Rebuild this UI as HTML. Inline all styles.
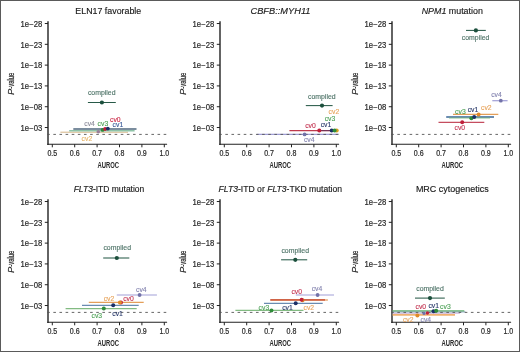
<!DOCTYPE html>
<html><head><meta charset="utf-8"><style>
html,body{margin:0;padding:0;background:#fff;}
.wrap{position:relative;width:520px;height:352px;overflow:hidden;background:#fff;}
svg{display:block;font-family:"Liberation Sans", sans-serif;filter:blur(0.3px);}
.bd{position:absolute;left:0;top:0;width:520px;height:352px;box-sizing:border-box;border:1px solid #5a5a5a;}
</style></head><body>
<div class="wrap">
<svg width="520" height="352" viewBox="0 0 520 352">
<rect x="0" y="0" width="520" height="352" fill="#fff"/>
<g transform="translate(0,0)">
<text x="108.3" y="13.9" font-size="8.85" text-anchor="middle" fill="#1a1a1a" stroke="#1a1a1a" stroke-width="0.15">ELN17 favorable</text>
<line x1="48" y1="21.3" x2="48" y2="144.9" stroke="#222" stroke-width="1.4"/>
<line x1="44.8" y1="23.52" x2="48" y2="23.52" stroke="#222" stroke-width="1"/>
<text x="42.2" y="26.72" font-size="8.2" text-anchor="end" fill="#2a2a2a" stroke="#2a2a2a" stroke-width="0.2" textLength="21.6" lengthAdjust="spacingAndGlyphs">1e−28</text>
<line x1="44.8" y1="44.32" x2="48" y2="44.32" stroke="#222" stroke-width="1"/>
<text x="42.2" y="47.52" font-size="8.2" text-anchor="end" fill="#2a2a2a" stroke="#2a2a2a" stroke-width="0.2" textLength="21.6" lengthAdjust="spacingAndGlyphs">1e−23</text>
<line x1="44.8" y1="65.12" x2="48" y2="65.12" stroke="#222" stroke-width="1"/>
<text x="42.2" y="68.32" font-size="8.2" text-anchor="end" fill="#2a2a2a" stroke="#2a2a2a" stroke-width="0.2" textLength="21.6" lengthAdjust="spacingAndGlyphs">1e−18</text>
<line x1="44.8" y1="85.92" x2="48" y2="85.92" stroke="#222" stroke-width="1"/>
<text x="42.2" y="89.12" font-size="8.2" text-anchor="end" fill="#2a2a2a" stroke="#2a2a2a" stroke-width="0.2" textLength="21.6" lengthAdjust="spacingAndGlyphs">1e−13</text>
<line x1="44.8" y1="106.72" x2="48" y2="106.72" stroke="#222" stroke-width="1"/>
<text x="42.2" y="109.92" font-size="8.2" text-anchor="end" fill="#2a2a2a" stroke="#2a2a2a" stroke-width="0.2" textLength="21.6" lengthAdjust="spacingAndGlyphs">1e−08</text>
<line x1="44.8" y1="127.52" x2="48" y2="127.52" stroke="#222" stroke-width="1"/>
<text x="42.2" y="130.72" font-size="8.2" text-anchor="end" fill="#2a2a2a" stroke="#2a2a2a" stroke-width="0.2" textLength="21.6" lengthAdjust="spacingAndGlyphs">1e−03</text>
<line x1="47.3" y1="144.2" x2="167.1" y2="144.2" stroke="#222" stroke-width="1.15"/>
<line x1="52.30" y1="144.2" x2="52.30" y2="147.3" stroke="#222" stroke-width="1"/>
<text x="47.40" y="156.0" font-size="8.4" fill="#2a2a2a" stroke="#2a2a2a" stroke-width="0.22" textLength="9.8" lengthAdjust="spacingAndGlyphs">0.5</text>
<line x1="74.70" y1="144.2" x2="74.70" y2="147.3" stroke="#222" stroke-width="1"/>
<text x="69.80" y="156.0" font-size="8.4" fill="#2a2a2a" stroke="#2a2a2a" stroke-width="0.22" textLength="9.8" lengthAdjust="spacingAndGlyphs">0.6</text>
<line x1="97.10" y1="144.2" x2="97.10" y2="147.3" stroke="#222" stroke-width="1"/>
<text x="92.20" y="156.0" font-size="8.4" fill="#2a2a2a" stroke="#2a2a2a" stroke-width="0.22" textLength="9.8" lengthAdjust="spacingAndGlyphs">0.7</text>
<line x1="119.50" y1="144.2" x2="119.50" y2="147.3" stroke="#222" stroke-width="1"/>
<text x="114.60" y="156.0" font-size="8.4" fill="#2a2a2a" stroke="#2a2a2a" stroke-width="0.22" textLength="9.8" lengthAdjust="spacingAndGlyphs">0.8</text>
<line x1="141.90" y1="144.2" x2="141.90" y2="147.3" stroke="#222" stroke-width="1"/>
<text x="137.00" y="156.0" font-size="8.4" fill="#2a2a2a" stroke="#2a2a2a" stroke-width="0.22" textLength="9.8" lengthAdjust="spacingAndGlyphs">0.9</text>
<line x1="164.30" y1="144.2" x2="164.30" y2="147.3" stroke="#222" stroke-width="1"/>
<text x="159.40" y="156.0" font-size="8.4" fill="#2a2a2a" stroke="#2a2a2a" stroke-width="0.22" textLength="9.8" lengthAdjust="spacingAndGlyphs">1.0</text>
<text transform="translate(108.3,168.1) scale(0.64,1)" font-size="9.2" font-weight="bold" text-anchor="middle" fill="#2a2a2a">AUROC</text>
<text transform="translate(14.0,95.0) rotate(-90)" font-size="9.3" font-style="italic" fill="#2a2a2a" stroke="#2a2a2a" stroke-width="0.15">P</text>
<text transform="translate(14.0,88.7) rotate(-90) scale(0.63,1)" font-size="9.3" fill="#2a2a2a" stroke="#2a2a2a" stroke-width="0.25">-value</text>
</g>
<g transform="translate(172,0)">
<text x="108.5" y="13.9" font-size="8.85" text-anchor="middle" fill="#1a1a1a" stroke="#1a1a1a" stroke-width="0.15" textLength="60.0" lengthAdjust="spacingAndGlyphs"><tspan font-style="italic">CBFB::MYH11</tspan></text>
<line x1="48" y1="21.3" x2="48" y2="144.9" stroke="#222" stroke-width="1.4"/>
<line x1="44.8" y1="23.52" x2="48" y2="23.52" stroke="#222" stroke-width="1"/>
<text x="42.2" y="26.72" font-size="8.2" text-anchor="end" fill="#2a2a2a" stroke="#2a2a2a" stroke-width="0.2" textLength="21.6" lengthAdjust="spacingAndGlyphs">1e−28</text>
<line x1="44.8" y1="44.32" x2="48" y2="44.32" stroke="#222" stroke-width="1"/>
<text x="42.2" y="47.52" font-size="8.2" text-anchor="end" fill="#2a2a2a" stroke="#2a2a2a" stroke-width="0.2" textLength="21.6" lengthAdjust="spacingAndGlyphs">1e−23</text>
<line x1="44.8" y1="65.12" x2="48" y2="65.12" stroke="#222" stroke-width="1"/>
<text x="42.2" y="68.32" font-size="8.2" text-anchor="end" fill="#2a2a2a" stroke="#2a2a2a" stroke-width="0.2" textLength="21.6" lengthAdjust="spacingAndGlyphs">1e−18</text>
<line x1="44.8" y1="85.92" x2="48" y2="85.92" stroke="#222" stroke-width="1"/>
<text x="42.2" y="89.12" font-size="8.2" text-anchor="end" fill="#2a2a2a" stroke="#2a2a2a" stroke-width="0.2" textLength="21.6" lengthAdjust="spacingAndGlyphs">1e−13</text>
<line x1="44.8" y1="106.72" x2="48" y2="106.72" stroke="#222" stroke-width="1"/>
<text x="42.2" y="109.92" font-size="8.2" text-anchor="end" fill="#2a2a2a" stroke="#2a2a2a" stroke-width="0.2" textLength="21.6" lengthAdjust="spacingAndGlyphs">1e−08</text>
<line x1="44.8" y1="127.52" x2="48" y2="127.52" stroke="#222" stroke-width="1"/>
<text x="42.2" y="130.72" font-size="8.2" text-anchor="end" fill="#2a2a2a" stroke="#2a2a2a" stroke-width="0.2" textLength="21.6" lengthAdjust="spacingAndGlyphs">1e−03</text>
<line x1="47.3" y1="144.2" x2="167.1" y2="144.2" stroke="#222" stroke-width="1.15"/>
<line x1="52.30" y1="144.2" x2="52.30" y2="147.3" stroke="#222" stroke-width="1"/>
<text x="47.40" y="156.0" font-size="8.4" fill="#2a2a2a" stroke="#2a2a2a" stroke-width="0.22" textLength="9.8" lengthAdjust="spacingAndGlyphs">0.5</text>
<line x1="74.70" y1="144.2" x2="74.70" y2="147.3" stroke="#222" stroke-width="1"/>
<text x="69.80" y="156.0" font-size="8.4" fill="#2a2a2a" stroke="#2a2a2a" stroke-width="0.22" textLength="9.8" lengthAdjust="spacingAndGlyphs">0.6</text>
<line x1="97.10" y1="144.2" x2="97.10" y2="147.3" stroke="#222" stroke-width="1"/>
<text x="92.20" y="156.0" font-size="8.4" fill="#2a2a2a" stroke="#2a2a2a" stroke-width="0.22" textLength="9.8" lengthAdjust="spacingAndGlyphs">0.7</text>
<line x1="119.50" y1="144.2" x2="119.50" y2="147.3" stroke="#222" stroke-width="1"/>
<text x="114.60" y="156.0" font-size="8.4" fill="#2a2a2a" stroke="#2a2a2a" stroke-width="0.22" textLength="9.8" lengthAdjust="spacingAndGlyphs">0.8</text>
<line x1="141.90" y1="144.2" x2="141.90" y2="147.3" stroke="#222" stroke-width="1"/>
<text x="137.00" y="156.0" font-size="8.4" fill="#2a2a2a" stroke="#2a2a2a" stroke-width="0.22" textLength="9.8" lengthAdjust="spacingAndGlyphs">0.9</text>
<line x1="164.30" y1="144.2" x2="164.30" y2="147.3" stroke="#222" stroke-width="1"/>
<text x="159.40" y="156.0" font-size="8.4" fill="#2a2a2a" stroke="#2a2a2a" stroke-width="0.22" textLength="9.8" lengthAdjust="spacingAndGlyphs">1.0</text>
<text transform="translate(108.3,168.1) scale(0.64,1)" font-size="9.2" font-weight="bold" text-anchor="middle" fill="#2a2a2a">AUROC</text>
<text transform="translate(14.0,95.0) rotate(-90)" font-size="9.3" font-style="italic" fill="#2a2a2a" stroke="#2a2a2a" stroke-width="0.15">P</text>
<text transform="translate(14.0,88.7) rotate(-90) scale(0.63,1)" font-size="9.3" fill="#2a2a2a" stroke="#2a2a2a" stroke-width="0.25">-value</text>
</g>
<g transform="translate(344,0)">
<text x="108.3" y="13.9" font-size="8.85" text-anchor="middle" fill="#1a1a1a" stroke="#1a1a1a" stroke-width="0.15" textLength="61.2" lengthAdjust="spacingAndGlyphs"><tspan font-style="italic">NPM1</tspan> mutation</text>
<line x1="48" y1="21.3" x2="48" y2="144.9" stroke="#222" stroke-width="1.4"/>
<line x1="44.8" y1="23.52" x2="48" y2="23.52" stroke="#222" stroke-width="1"/>
<text x="42.2" y="26.72" font-size="8.2" text-anchor="end" fill="#2a2a2a" stroke="#2a2a2a" stroke-width="0.2" textLength="21.6" lengthAdjust="spacingAndGlyphs">1e−28</text>
<line x1="44.8" y1="44.32" x2="48" y2="44.32" stroke="#222" stroke-width="1"/>
<text x="42.2" y="47.52" font-size="8.2" text-anchor="end" fill="#2a2a2a" stroke="#2a2a2a" stroke-width="0.2" textLength="21.6" lengthAdjust="spacingAndGlyphs">1e−23</text>
<line x1="44.8" y1="65.12" x2="48" y2="65.12" stroke="#222" stroke-width="1"/>
<text x="42.2" y="68.32" font-size="8.2" text-anchor="end" fill="#2a2a2a" stroke="#2a2a2a" stroke-width="0.2" textLength="21.6" lengthAdjust="spacingAndGlyphs">1e−18</text>
<line x1="44.8" y1="85.92" x2="48" y2="85.92" stroke="#222" stroke-width="1"/>
<text x="42.2" y="89.12" font-size="8.2" text-anchor="end" fill="#2a2a2a" stroke="#2a2a2a" stroke-width="0.2" textLength="21.6" lengthAdjust="spacingAndGlyphs">1e−13</text>
<line x1="44.8" y1="106.72" x2="48" y2="106.72" stroke="#222" stroke-width="1"/>
<text x="42.2" y="109.92" font-size="8.2" text-anchor="end" fill="#2a2a2a" stroke="#2a2a2a" stroke-width="0.2" textLength="21.6" lengthAdjust="spacingAndGlyphs">1e−08</text>
<line x1="44.8" y1="127.52" x2="48" y2="127.52" stroke="#222" stroke-width="1"/>
<text x="42.2" y="130.72" font-size="8.2" text-anchor="end" fill="#2a2a2a" stroke="#2a2a2a" stroke-width="0.2" textLength="21.6" lengthAdjust="spacingAndGlyphs">1e−03</text>
<line x1="47.3" y1="144.2" x2="167.1" y2="144.2" stroke="#222" stroke-width="1.15"/>
<line x1="52.30" y1="144.2" x2="52.30" y2="147.3" stroke="#222" stroke-width="1"/>
<text x="47.40" y="156.0" font-size="8.4" fill="#2a2a2a" stroke="#2a2a2a" stroke-width="0.22" textLength="9.8" lengthAdjust="spacingAndGlyphs">0.5</text>
<line x1="74.70" y1="144.2" x2="74.70" y2="147.3" stroke="#222" stroke-width="1"/>
<text x="69.80" y="156.0" font-size="8.4" fill="#2a2a2a" stroke="#2a2a2a" stroke-width="0.22" textLength="9.8" lengthAdjust="spacingAndGlyphs">0.6</text>
<line x1="97.10" y1="144.2" x2="97.10" y2="147.3" stroke="#222" stroke-width="1"/>
<text x="92.20" y="156.0" font-size="8.4" fill="#2a2a2a" stroke="#2a2a2a" stroke-width="0.22" textLength="9.8" lengthAdjust="spacingAndGlyphs">0.7</text>
<line x1="119.50" y1="144.2" x2="119.50" y2="147.3" stroke="#222" stroke-width="1"/>
<text x="114.60" y="156.0" font-size="8.4" fill="#2a2a2a" stroke="#2a2a2a" stroke-width="0.22" textLength="9.8" lengthAdjust="spacingAndGlyphs">0.8</text>
<line x1="141.90" y1="144.2" x2="141.90" y2="147.3" stroke="#222" stroke-width="1"/>
<text x="137.00" y="156.0" font-size="8.4" fill="#2a2a2a" stroke="#2a2a2a" stroke-width="0.22" textLength="9.8" lengthAdjust="spacingAndGlyphs">0.9</text>
<line x1="164.30" y1="144.2" x2="164.30" y2="147.3" stroke="#222" stroke-width="1"/>
<text x="159.40" y="156.0" font-size="8.4" fill="#2a2a2a" stroke="#2a2a2a" stroke-width="0.22" textLength="9.8" lengthAdjust="spacingAndGlyphs">1.0</text>
<text transform="translate(108.3,168.1) scale(0.64,1)" font-size="9.2" font-weight="bold" text-anchor="middle" fill="#2a2a2a">AUROC</text>
<text transform="translate(14.0,95.0) rotate(-90)" font-size="9.3" font-style="italic" fill="#2a2a2a" stroke="#2a2a2a" stroke-width="0.15">P</text>
<text transform="translate(14.0,88.7) rotate(-90) scale(0.63,1)" font-size="9.3" fill="#2a2a2a" stroke="#2a2a2a" stroke-width="0.25">-value</text>
</g>
<g transform="translate(0,178)">
<text x="109.0" y="14.200000000000001" font-size="8.85" text-anchor="middle" fill="#1a1a1a" stroke="#1a1a1a" stroke-width="0.15" textLength="70.6" lengthAdjust="spacingAndGlyphs"><tspan font-style="italic">FLT3</tspan>-ITD mutation</text>
<line x1="48" y1="21.3" x2="48" y2="144.9" stroke="#222" stroke-width="1.4"/>
<line x1="44.8" y1="23.52" x2="48" y2="23.52" stroke="#222" stroke-width="1"/>
<text x="42.2" y="26.72" font-size="8.2" text-anchor="end" fill="#2a2a2a" stroke="#2a2a2a" stroke-width="0.2" textLength="21.6" lengthAdjust="spacingAndGlyphs">1e−28</text>
<line x1="44.8" y1="44.32" x2="48" y2="44.32" stroke="#222" stroke-width="1"/>
<text x="42.2" y="47.52" font-size="8.2" text-anchor="end" fill="#2a2a2a" stroke="#2a2a2a" stroke-width="0.2" textLength="21.6" lengthAdjust="spacingAndGlyphs">1e−23</text>
<line x1="44.8" y1="65.12" x2="48" y2="65.12" stroke="#222" stroke-width="1"/>
<text x="42.2" y="68.32" font-size="8.2" text-anchor="end" fill="#2a2a2a" stroke="#2a2a2a" stroke-width="0.2" textLength="21.6" lengthAdjust="spacingAndGlyphs">1e−18</text>
<line x1="44.8" y1="85.92" x2="48" y2="85.92" stroke="#222" stroke-width="1"/>
<text x="42.2" y="89.12" font-size="8.2" text-anchor="end" fill="#2a2a2a" stroke="#2a2a2a" stroke-width="0.2" textLength="21.6" lengthAdjust="spacingAndGlyphs">1e−13</text>
<line x1="44.8" y1="106.72" x2="48" y2="106.72" stroke="#222" stroke-width="1"/>
<text x="42.2" y="109.92" font-size="8.2" text-anchor="end" fill="#2a2a2a" stroke="#2a2a2a" stroke-width="0.2" textLength="21.6" lengthAdjust="spacingAndGlyphs">1e−08</text>
<line x1="44.8" y1="127.52" x2="48" y2="127.52" stroke="#222" stroke-width="1"/>
<text x="42.2" y="130.72" font-size="8.2" text-anchor="end" fill="#2a2a2a" stroke="#2a2a2a" stroke-width="0.2" textLength="21.6" lengthAdjust="spacingAndGlyphs">1e−03</text>
<line x1="47.3" y1="144.2" x2="167.1" y2="144.2" stroke="#222" stroke-width="1.15"/>
<line x1="52.30" y1="144.2" x2="52.30" y2="147.3" stroke="#222" stroke-width="1"/>
<text x="47.40" y="156.0" font-size="8.4" fill="#2a2a2a" stroke="#2a2a2a" stroke-width="0.22" textLength="9.8" lengthAdjust="spacingAndGlyphs">0.5</text>
<line x1="74.70" y1="144.2" x2="74.70" y2="147.3" stroke="#222" stroke-width="1"/>
<text x="69.80" y="156.0" font-size="8.4" fill="#2a2a2a" stroke="#2a2a2a" stroke-width="0.22" textLength="9.8" lengthAdjust="spacingAndGlyphs">0.6</text>
<line x1="97.10" y1="144.2" x2="97.10" y2="147.3" stroke="#222" stroke-width="1"/>
<text x="92.20" y="156.0" font-size="8.4" fill="#2a2a2a" stroke="#2a2a2a" stroke-width="0.22" textLength="9.8" lengthAdjust="spacingAndGlyphs">0.7</text>
<line x1="119.50" y1="144.2" x2="119.50" y2="147.3" stroke="#222" stroke-width="1"/>
<text x="114.60" y="156.0" font-size="8.4" fill="#2a2a2a" stroke="#2a2a2a" stroke-width="0.22" textLength="9.8" lengthAdjust="spacingAndGlyphs">0.8</text>
<line x1="141.90" y1="144.2" x2="141.90" y2="147.3" stroke="#222" stroke-width="1"/>
<text x="137.00" y="156.0" font-size="8.4" fill="#2a2a2a" stroke="#2a2a2a" stroke-width="0.22" textLength="9.8" lengthAdjust="spacingAndGlyphs">0.9</text>
<line x1="164.30" y1="144.2" x2="164.30" y2="147.3" stroke="#222" stroke-width="1"/>
<text x="159.40" y="156.0" font-size="8.4" fill="#2a2a2a" stroke="#2a2a2a" stroke-width="0.22" textLength="9.8" lengthAdjust="spacingAndGlyphs">1.0</text>
<text transform="translate(108.3,168.1) scale(0.64,1)" font-size="9.2" font-weight="bold" text-anchor="middle" fill="#2a2a2a">AUROC</text>
<text transform="translate(14.0,95.0) rotate(-90)" font-size="9.3" font-style="italic" fill="#2a2a2a" stroke="#2a2a2a" stroke-width="0.15">P</text>
<text transform="translate(14.0,88.7) rotate(-90) scale(0.63,1)" font-size="9.3" fill="#2a2a2a" stroke="#2a2a2a" stroke-width="0.25">-value</text>
</g>
<g transform="translate(172,178)">
<text x="108.3" y="14.200000000000001" font-size="8.85" text-anchor="middle" fill="#1a1a1a" stroke="#1a1a1a" stroke-width="0.15" textLength="123.5" lengthAdjust="spacingAndGlyphs"><tspan font-style="italic">FLT3</tspan>-ITD or <tspan font-style="italic">FLT3</tspan>-TKD mutation</text>
<line x1="48" y1="21.3" x2="48" y2="144.9" stroke="#222" stroke-width="1.4"/>
<line x1="44.8" y1="23.52" x2="48" y2="23.52" stroke="#222" stroke-width="1"/>
<text x="42.2" y="26.72" font-size="8.2" text-anchor="end" fill="#2a2a2a" stroke="#2a2a2a" stroke-width="0.2" textLength="21.6" lengthAdjust="spacingAndGlyphs">1e−28</text>
<line x1="44.8" y1="44.32" x2="48" y2="44.32" stroke="#222" stroke-width="1"/>
<text x="42.2" y="47.52" font-size="8.2" text-anchor="end" fill="#2a2a2a" stroke="#2a2a2a" stroke-width="0.2" textLength="21.6" lengthAdjust="spacingAndGlyphs">1e−23</text>
<line x1="44.8" y1="65.12" x2="48" y2="65.12" stroke="#222" stroke-width="1"/>
<text x="42.2" y="68.32" font-size="8.2" text-anchor="end" fill="#2a2a2a" stroke="#2a2a2a" stroke-width="0.2" textLength="21.6" lengthAdjust="spacingAndGlyphs">1e−18</text>
<line x1="44.8" y1="85.92" x2="48" y2="85.92" stroke="#222" stroke-width="1"/>
<text x="42.2" y="89.12" font-size="8.2" text-anchor="end" fill="#2a2a2a" stroke="#2a2a2a" stroke-width="0.2" textLength="21.6" lengthAdjust="spacingAndGlyphs">1e−13</text>
<line x1="44.8" y1="106.72" x2="48" y2="106.72" stroke="#222" stroke-width="1"/>
<text x="42.2" y="109.92" font-size="8.2" text-anchor="end" fill="#2a2a2a" stroke="#2a2a2a" stroke-width="0.2" textLength="21.6" lengthAdjust="spacingAndGlyphs">1e−08</text>
<line x1="44.8" y1="127.52" x2="48" y2="127.52" stroke="#222" stroke-width="1"/>
<text x="42.2" y="130.72" font-size="8.2" text-anchor="end" fill="#2a2a2a" stroke="#2a2a2a" stroke-width="0.2" textLength="21.6" lengthAdjust="spacingAndGlyphs">1e−03</text>
<line x1="47.3" y1="144.2" x2="167.1" y2="144.2" stroke="#222" stroke-width="1.15"/>
<line x1="52.30" y1="144.2" x2="52.30" y2="147.3" stroke="#222" stroke-width="1"/>
<text x="47.40" y="156.0" font-size="8.4" fill="#2a2a2a" stroke="#2a2a2a" stroke-width="0.22" textLength="9.8" lengthAdjust="spacingAndGlyphs">0.5</text>
<line x1="74.70" y1="144.2" x2="74.70" y2="147.3" stroke="#222" stroke-width="1"/>
<text x="69.80" y="156.0" font-size="8.4" fill="#2a2a2a" stroke="#2a2a2a" stroke-width="0.22" textLength="9.8" lengthAdjust="spacingAndGlyphs">0.6</text>
<line x1="97.10" y1="144.2" x2="97.10" y2="147.3" stroke="#222" stroke-width="1"/>
<text x="92.20" y="156.0" font-size="8.4" fill="#2a2a2a" stroke="#2a2a2a" stroke-width="0.22" textLength="9.8" lengthAdjust="spacingAndGlyphs">0.7</text>
<line x1="119.50" y1="144.2" x2="119.50" y2="147.3" stroke="#222" stroke-width="1"/>
<text x="114.60" y="156.0" font-size="8.4" fill="#2a2a2a" stroke="#2a2a2a" stroke-width="0.22" textLength="9.8" lengthAdjust="spacingAndGlyphs">0.8</text>
<line x1="141.90" y1="144.2" x2="141.90" y2="147.3" stroke="#222" stroke-width="1"/>
<text x="137.00" y="156.0" font-size="8.4" fill="#2a2a2a" stroke="#2a2a2a" stroke-width="0.22" textLength="9.8" lengthAdjust="spacingAndGlyphs">0.9</text>
<line x1="164.30" y1="144.2" x2="164.30" y2="147.3" stroke="#222" stroke-width="1"/>
<text x="159.40" y="156.0" font-size="8.4" fill="#2a2a2a" stroke="#2a2a2a" stroke-width="0.22" textLength="9.8" lengthAdjust="spacingAndGlyphs">1.0</text>
<text transform="translate(108.3,168.1) scale(0.64,1)" font-size="9.2" font-weight="bold" text-anchor="middle" fill="#2a2a2a">AUROC</text>
<text transform="translate(14.0,95.0) rotate(-90)" font-size="9.3" font-style="italic" fill="#2a2a2a" stroke="#2a2a2a" stroke-width="0.15">P</text>
<text transform="translate(14.0,88.7) rotate(-90) scale(0.63,1)" font-size="9.3" fill="#2a2a2a" stroke="#2a2a2a" stroke-width="0.25">-value</text>
</g>
<g transform="translate(344,178)">
<text x="108.3" y="14.200000000000001" font-size="8.85" text-anchor="middle" fill="#1a1a1a" stroke="#1a1a1a" stroke-width="0.15" textLength="72.8" lengthAdjust="spacingAndGlyphs">MRC cytogenetics</text>
<line x1="48" y1="21.3" x2="48" y2="144.9" stroke="#222" stroke-width="1.4"/>
<line x1="44.8" y1="23.52" x2="48" y2="23.52" stroke="#222" stroke-width="1"/>
<text x="42.2" y="26.72" font-size="8.2" text-anchor="end" fill="#2a2a2a" stroke="#2a2a2a" stroke-width="0.2" textLength="21.6" lengthAdjust="spacingAndGlyphs">1e−28</text>
<line x1="44.8" y1="44.32" x2="48" y2="44.32" stroke="#222" stroke-width="1"/>
<text x="42.2" y="47.52" font-size="8.2" text-anchor="end" fill="#2a2a2a" stroke="#2a2a2a" stroke-width="0.2" textLength="21.6" lengthAdjust="spacingAndGlyphs">1e−23</text>
<line x1="44.8" y1="65.12" x2="48" y2="65.12" stroke="#222" stroke-width="1"/>
<text x="42.2" y="68.32" font-size="8.2" text-anchor="end" fill="#2a2a2a" stroke="#2a2a2a" stroke-width="0.2" textLength="21.6" lengthAdjust="spacingAndGlyphs">1e−18</text>
<line x1="44.8" y1="85.92" x2="48" y2="85.92" stroke="#222" stroke-width="1"/>
<text x="42.2" y="89.12" font-size="8.2" text-anchor="end" fill="#2a2a2a" stroke="#2a2a2a" stroke-width="0.2" textLength="21.6" lengthAdjust="spacingAndGlyphs">1e−13</text>
<line x1="44.8" y1="106.72" x2="48" y2="106.72" stroke="#222" stroke-width="1"/>
<text x="42.2" y="109.92" font-size="8.2" text-anchor="end" fill="#2a2a2a" stroke="#2a2a2a" stroke-width="0.2" textLength="21.6" lengthAdjust="spacingAndGlyphs">1e−08</text>
<line x1="44.8" y1="127.52" x2="48" y2="127.52" stroke="#222" stroke-width="1"/>
<text x="42.2" y="130.72" font-size="8.2" text-anchor="end" fill="#2a2a2a" stroke="#2a2a2a" stroke-width="0.2" textLength="21.6" lengthAdjust="spacingAndGlyphs">1e−03</text>
<line x1="47.3" y1="144.2" x2="167.1" y2="144.2" stroke="#222" stroke-width="1.15"/>
<line x1="52.30" y1="144.2" x2="52.30" y2="147.3" stroke="#222" stroke-width="1"/>
<text x="47.40" y="156.0" font-size="8.4" fill="#2a2a2a" stroke="#2a2a2a" stroke-width="0.22" textLength="9.8" lengthAdjust="spacingAndGlyphs">0.5</text>
<line x1="74.70" y1="144.2" x2="74.70" y2="147.3" stroke="#222" stroke-width="1"/>
<text x="69.80" y="156.0" font-size="8.4" fill="#2a2a2a" stroke="#2a2a2a" stroke-width="0.22" textLength="9.8" lengthAdjust="spacingAndGlyphs">0.6</text>
<line x1="97.10" y1="144.2" x2="97.10" y2="147.3" stroke="#222" stroke-width="1"/>
<text x="92.20" y="156.0" font-size="8.4" fill="#2a2a2a" stroke="#2a2a2a" stroke-width="0.22" textLength="9.8" lengthAdjust="spacingAndGlyphs">0.7</text>
<line x1="119.50" y1="144.2" x2="119.50" y2="147.3" stroke="#222" stroke-width="1"/>
<text x="114.60" y="156.0" font-size="8.4" fill="#2a2a2a" stroke="#2a2a2a" stroke-width="0.22" textLength="9.8" lengthAdjust="spacingAndGlyphs">0.8</text>
<line x1="141.90" y1="144.2" x2="141.90" y2="147.3" stroke="#222" stroke-width="1"/>
<text x="137.00" y="156.0" font-size="8.4" fill="#2a2a2a" stroke="#2a2a2a" stroke-width="0.22" textLength="9.8" lengthAdjust="spacingAndGlyphs">0.9</text>
<line x1="164.30" y1="144.2" x2="164.30" y2="147.3" stroke="#222" stroke-width="1"/>
<text x="159.40" y="156.0" font-size="8.4" fill="#2a2a2a" stroke="#2a2a2a" stroke-width="0.22" textLength="9.8" lengthAdjust="spacingAndGlyphs">1.0</text>
<text transform="translate(108.3,168.1) scale(0.64,1)" font-size="9.2" font-weight="bold" text-anchor="middle" fill="#2a2a2a">AUROC</text>
<text transform="translate(14.0,95.0) rotate(-90)" font-size="9.3" font-style="italic" fill="#2a2a2a" stroke="#2a2a2a" stroke-width="0.15">P</text>
<text transform="translate(14.0,88.7) rotate(-90) scale(0.63,1)" font-size="9.3" fill="#2a2a2a" stroke="#2a2a2a" stroke-width="0.25">-value</text>
</g>
<line x1="87.9" y1="102.5" x2="115.8" y2="102.5" stroke="#285a48" stroke-width="1.05" stroke-opacity="1.0"/>
<line x1="60.4" y1="132.2" x2="128" y2="132.2" stroke="#d4b486" stroke-width="1.0" stroke-opacity="1"/>
<line x1="69.2" y1="130.8" x2="134.6" y2="130.8" stroke="#8fc4a8" stroke-width="1.6" stroke-opacity="1"/>
<line x1="73.3" y1="129.0" x2="136.5" y2="129.0" stroke="#7b8d9e" stroke-width="2.0" stroke-opacity="1"/>
<line x1="305.8" y1="105.6" x2="332.6" y2="105.6" stroke="#285a48" stroke-width="1.05" stroke-opacity="1.0"/>
<line x1="256.8" y1="134.4" x2="338.6" y2="134.4" stroke="#9694d2" stroke-width="1.2" stroke-opacity="0.9"/>
<line x1="289.4" y1="130.6" x2="337.5" y2="130.6" stroke="#bf3a4e" stroke-width="1.3" stroke-opacity="1.0"/>
<line x1="320" y1="130.6" x2="337" y2="130.6" stroke="#1b2f66" stroke-width="1.2" stroke-opacity="0.45"/>
<line x1="466.0" y1="30.4" x2="485.8" y2="30.4" stroke="#285a48" stroke-width="1.05" stroke-opacity="1.0"/>
<line x1="492.3" y1="100.7" x2="507.6" y2="100.7" stroke="#9694d2" stroke-width="1.2" stroke-opacity="0.9"/>
<line x1="453.0" y1="114.4" x2="498.3" y2="114.4" stroke="#e09548" stroke-width="1.2" stroke-opacity="0.9"/>
<line x1="446.2" y1="117.0" x2="494.0" y2="117.0" stroke="#5a7fa8" stroke-width="1.8" stroke-opacity="0.9"/>
<line x1="449.0" y1="118.0" x2="490.0" y2="118.0" stroke="#74b474" stroke-width="1.0" stroke-opacity="0.8"/>
<line x1="438.5" y1="122.3" x2="484.3" y2="122.3" stroke="#bf3a4e" stroke-width="1.2" stroke-opacity="0.9"/>
<line x1="103.2" y1="258.0" x2="129.3" y2="258.0" stroke="#285a48" stroke-width="1.05" stroke-opacity="1.0"/>
<line x1="116.8" y1="295.0" x2="156.9" y2="295.0" stroke="#9694d2" stroke-width="1.2" stroke-opacity="0.9"/>
<line x1="88.8" y1="302.3" x2="143.7" y2="302.3" stroke="#e09548" stroke-width="1.3" stroke-opacity="0.9"/>
<line x1="82.0" y1="305.3" x2="138.7" y2="305.3" stroke="#5a7fa8" stroke-width="1.3" stroke-opacity="0.9"/>
<line x1="65.6" y1="308.6" x2="136.7" y2="308.6" stroke="#74b474" stroke-width="1.3" stroke-opacity="0.9"/>
<line x1="281.1" y1="259.8" x2="307.2" y2="259.8" stroke="#285a48" stroke-width="1.05" stroke-opacity="1.0"/>
<line x1="295.8" y1="295.0" x2="334.0" y2="295.0" stroke="#9694d2" stroke-width="1.2" stroke-opacity="0.9"/>
<line x1="270.4" y1="299.9" x2="325.0" y2="299.9" stroke="#bf3a4e" stroke-width="1.9" stroke-opacity="1"/>
<line x1="270.4" y1="300.0" x2="327.9" y2="300.0" stroke="#e08a40" stroke-width="1.7" stroke-opacity="0.7"/>
<line x1="264.0" y1="303.3" x2="322.7" y2="303.3" stroke="#5a7fa8" stroke-width="1.3" stroke-opacity="0.9"/>
<line x1="235.4" y1="310.3" x2="303.5" y2="310.3" stroke="#74b474" stroke-width="1.3" stroke-opacity="0.9"/>
<line x1="415.0" y1="298.1" x2="444.8" y2="298.1" stroke="#285a48" stroke-width="1.05" stroke-opacity="1.0"/>
<line x1="392.6" y1="314.9" x2="455.0" y2="314.9" stroke="#f0b272" stroke-width="1.8" stroke-opacity="1"/>
<line x1="392.6" y1="313.3" x2="460.0" y2="313.3" stroke="#c8a8d0" stroke-width="1.1" stroke-opacity="0.9"/>
<line x1="392.6" y1="311.9" x2="465.4" y2="311.9" stroke="#5f7fa8" stroke-width="1.0" stroke-opacity="0.8"/>
<line x1="392.6" y1="310.9" x2="464.3" y2="310.9" stroke="#62ae6e" stroke-width="1.4" stroke-opacity="1"/>
<line x1="47.2" y1="134.4" x2="167.1" y2="134.4" stroke="#555" stroke-width="0.9" stroke-dasharray="2.6 3.53"/>
<line x1="219.2" y1="134.4" x2="339.1" y2="134.4" stroke="#555" stroke-width="0.9" stroke-dasharray="2.6 3.53"/>
<line x1="391.2" y1="134.4" x2="511.1" y2="134.4" stroke="#555" stroke-width="0.9" stroke-dasharray="2.6 3.53"/>
<line x1="47.2" y1="312.4" x2="167.1" y2="312.4" stroke="#555" stroke-width="0.9" stroke-dasharray="2.6 3.53"/>
<line x1="219.2" y1="312.4" x2="339.1" y2="312.4" stroke="#555" stroke-width="0.9" stroke-dasharray="2.6 3.53"/>
<line x1="391.2" y1="312.4" x2="511.1" y2="312.4" stroke="#555" stroke-width="0.9" stroke-dasharray="2.6 3.53"/>
<circle cx="101.9" cy="102.5" r="2.1" fill="#1b4f3c"/>
<text x="101.7" y="94.80" font-size="6.9" text-anchor="middle" fill="#4d7367" stroke="#4d7367" stroke-width="0.12">compiled</text>
<circle cx="98.3" cy="131.8" r="1.8" fill="#9a7f9a"/>
<circle cx="102.6" cy="129.9" r="1.9" fill="#2f8c3a"/>
<circle cx="105.1" cy="129.0" r="1.9" fill="#c01f3a"/>
<circle cx="107.8" cy="128.6" r="1.9" fill="#1b2f66"/>
<text x="89.6" y="126.20" font-size="6.8" text-anchor="middle" fill="#8e8e9c" stroke="#8e8e9c" stroke-width="0.12">cv4</text>
<text x="102.9" y="125.70" font-size="6.8" text-anchor="middle" fill="#4f9f55" stroke="#4f9f55" stroke-width="0.12">cv3</text>
<text x="115.3" y="121.60" font-size="6.8" text-anchor="middle" fill="#cc2a48" stroke="#cc2a48" stroke-width="0.12">cv0</text>
<text x="117.9" y="126.50" font-size="6.8" text-anchor="middle" fill="#3a5a98" stroke="#3a5a98" stroke-width="0.12">cv1</text>
<text x="86.9" y="141.00" font-size="6.8" text-anchor="middle" fill="#e6b468" stroke="#e6b468" stroke-width="0.12">cv2</text>
<circle cx="322.0" cy="105.6" r="2.1" fill="#1b4f3c"/>
<text x="321.8" y="98.60" font-size="6.9" text-anchor="middle" fill="#4d7367" stroke="#4d7367" stroke-width="0.12">compiled</text>
<circle cx="304.6" cy="134.4" r="1.9" fill="#7272a8"/>
<circle cx="319.3" cy="130.6" r="2.0" fill="#c01f3a"/>
<circle cx="331.7" cy="130.6" r="2.0" fill="#1b2f66"/>
<circle cx="336.7" cy="130.6" r="2.0" fill="#d8a020"/>
<circle cx="334.6" cy="130.6" r="2.0" fill="#2f8c3a"/>
<text x="333.9" y="113.70" font-size="6.8" text-anchor="middle" fill="#e8a45c" stroke="#e8a45c" stroke-width="0.12">cv2</text>
<text x="330.0" y="120.50" font-size="6.8" text-anchor="middle" fill="#4fa258" stroke="#4fa258" stroke-width="0.12">cv3</text>
<text x="326.0" y="127.30" font-size="6.8" text-anchor="middle" fill="#2a3a6a" stroke="#2a3a6a" stroke-width="0.12">cv1</text>
<text x="310.5" y="127.70" font-size="6.8" text-anchor="middle" fill="#c33452" stroke="#c33452" stroke-width="0.12">cv0</text>
<text x="309.2" y="142.00" font-size="6.8" text-anchor="middle" fill="#8585b0" stroke="#8585b0" stroke-width="0.12">cv4</text>
<circle cx="475.9" cy="30.4" r="2.1" fill="#1b4f3c"/>
<text x="475.6" y="40.10" font-size="6.9" text-anchor="middle" fill="#4d7367" stroke="#4d7367" stroke-width="0.12">compiled</text>
<circle cx="500.8" cy="100.7" r="1.9" fill="#7272a8"/>
<circle cx="478.6" cy="114.4" r="2.0" fill="#e08a28"/>
<circle cx="471.4" cy="118.3" r="2.0" fill="#2f8c3a"/>
<circle cx="474.2" cy="117.0" r="2.0" fill="#1b2f66"/>
<circle cx="462.2" cy="122.3" r="2.0" fill="#c01f3a"/>
<text x="496.5" y="96.70" font-size="6.8" text-anchor="middle" fill="#8585b0" stroke="#8585b0" stroke-width="0.12">cv4</text>
<text x="486.3" y="109.80" font-size="6.8" text-anchor="middle" fill="#e8a45c" stroke="#e8a45c" stroke-width="0.12">cv2</text>
<text x="473.0" y="111.50" font-size="6.8" text-anchor="middle" fill="#2a3a6a" stroke="#2a3a6a" stroke-width="0.12">cv1</text>
<text x="460.4" y="113.80" font-size="6.8" text-anchor="middle" fill="#4fa258" stroke="#4fa258" stroke-width="0.12">cv3</text>
<text x="459.8" y="130.30" font-size="6.8" text-anchor="middle" fill="#c33452" stroke="#c33452" stroke-width="0.12">cv0</text>
<circle cx="116.8" cy="258.0" r="2.1" fill="#1b4f3c"/>
<text x="117.2" y="250.40" font-size="6.9" text-anchor="middle" fill="#4d7367" stroke="#4d7367" stroke-width="0.12">compiled</text>
<circle cx="139.6" cy="295.0" r="1.9" fill="#7272a8"/>
<circle cx="121.0" cy="302.4" r="2.0" fill="#c01f3a"/>
<circle cx="119.9" cy="302.6" r="2.0" fill="#e08a28"/>
<circle cx="113.2" cy="305.3" r="2.0" fill="#1b2f66"/>
<circle cx="103.8" cy="308.6" r="2.0" fill="#2f8c3a"/>
<text x="141.3" y="291.60" font-size="6.8" text-anchor="middle" fill="#8585b0" stroke="#8585b0" stroke-width="0.12">cv4</text>
<text x="109.0" y="300.70" font-size="6.8" text-anchor="middle" fill="#e8a45c" stroke="#e8a45c" stroke-width="0.12">cv2</text>
<text x="128.5" y="300.70" font-size="6.8" text-anchor="middle" fill="#c33452" stroke="#c33452" stroke-width="0.12">cv0</text>
<text x="117.6" y="315.60" font-size="6.8" text-anchor="middle" fill="#2a3a6a" stroke="#2a3a6a" stroke-width="0.12">cv1</text>
<text x="96.8" y="317.80" font-size="6.8" text-anchor="middle" fill="#4fa258" stroke="#4fa258" stroke-width="0.12">cv3</text>
<circle cx="295.3" cy="259.8" r="2.1" fill="#1b4f3c"/>
<text x="295.2" y="253.10" font-size="6.9" text-anchor="middle" fill="#4d7367" stroke="#4d7367" stroke-width="0.12">compiled</text>
<circle cx="317.6" cy="295.0" r="1.9" fill="#7272a8"/>
<circle cx="302.6" cy="300.2" r="2.0" fill="#e08a28"/>
<circle cx="301.6" cy="299.8" r="2.0" fill="#c01f3a"/>
<circle cx="295.7" cy="303.3" r="2.0" fill="#1b2f66"/>
<circle cx="271.5" cy="310.4" r="2.0" fill="#2f8c3a"/>
<text x="317.0" y="291.40" font-size="6.8" text-anchor="middle" fill="#8585b0" stroke="#8585b0" stroke-width="0.12">cv4</text>
<text x="296.7" y="293.80" font-size="6.8" text-anchor="middle" fill="#c33452" stroke="#c33452" stroke-width="0.12">cv0</text>
<text x="308.8" y="309.80" font-size="6.8" text-anchor="middle" fill="#e8a45c" stroke="#e8a45c" stroke-width="0.12">cv2</text>
<text x="287.5" y="309.80" font-size="6.8" text-anchor="middle" fill="#2a3a6a" stroke="#2a3a6a" stroke-width="0.12">cv1</text>
<text x="263.9" y="309.80" font-size="6.8" text-anchor="middle" fill="#4fa258" stroke="#4fa258" stroke-width="0.12">cv3</text>
<circle cx="430.0" cy="298.1" r="2.1" fill="#1b4f3c"/>
<text x="430.0" y="291.40" font-size="6.9" text-anchor="middle" fill="#4d7367" stroke="#4d7367" stroke-width="0.12">compiled</text>
<circle cx="417.4" cy="315.4" r="2.0" fill="#e08a28"/>
<circle cx="427.4" cy="313.0" r="1.7" fill="#c01f3a"/>
<circle cx="424.0" cy="313.4" r="1.6" fill="#7272a8"/>
<circle cx="433.5" cy="311.2" r="2.0" fill="#1b2f66"/>
<circle cx="436.2" cy="310.8" r="2.0" fill="#2f8c3a"/>
<text x="420.8" y="309.10" font-size="6.8" text-anchor="middle" fill="#c33452" stroke="#c33452" stroke-width="0.12">cv0</text>
<text x="433.7" y="308.10" font-size="6.8" text-anchor="middle" fill="#2a3a6a" stroke="#2a3a6a" stroke-width="0.12">cv1</text>
<text x="445.4" y="308.50" font-size="6.8" text-anchor="middle" fill="#4fa258" stroke="#4fa258" stroke-width="0.12">cv3</text>
<text x="408.2" y="321.80" font-size="6.8" text-anchor="middle" fill="#e8a45c" stroke="#e8a45c" stroke-width="0.12">cv2</text>
<text x="425.8" y="322.10" font-size="6.8" text-anchor="middle" fill="#8585b0" stroke="#8585b0" stroke-width="0.12">cv4</text>
</svg>
<div class="bd"></div>
</div>
</body></html>
